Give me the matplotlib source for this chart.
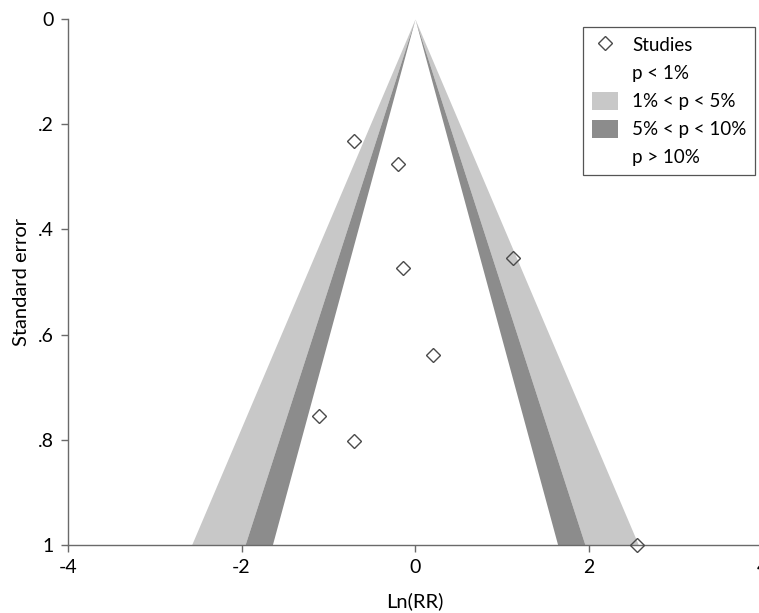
import matplotlib
matplotlib.use('Agg')
import matplotlib.pyplot as plt
import matplotlib.patches as mpatches
import matplotlib.lines as mlines
import numpy as np

plt.rcParams['font.family'] = ['Lato', 'DejaVu Sans']

# Study estimates: log risk ratio and its standard error.
ln_rr = [-0.70, -0.20, -0.14, 1.125, 0.205, -1.11, -0.70, 2.56]
std_err = [0.231, 0.276, 0.474, 0.454, 0.639, 0.755, 0.803, 1.0]

# Contour boundaries (z values for p = 10%, 5%, 1%).
z_10 = 1.645
z_05 = 1.96
z_01 = 2.576

light_gray = '#c8c8c8'
dark_gray = '#8c8c8c'
axis_gray = '#6a6a6a'

W, H = 759, 613
fig = plt.figure(figsize=(W / 100, H / 100), dpi=100)
ax = fig.add_axes([68 / W, 1 - 545 / H, (762 - 68) / W, (545 - 19) / H])

se = np.linspace(0, 1, 200)
for sign in (-1, 1):
    ax.fill_betweenx(se, sign * z_05 * se, sign * z_01 * se,
                     color=light_gray, linewidth=0)
    ax.fill_betweenx(se, sign * z_10 * se, sign * z_05 * se,
                     color=dark_gray, linewidth=0)

ax.plot(ln_rr, std_err, linestyle='none', marker='D', markersize=7.5,
        markerfacecolor='none', markeredgecolor='#4a4a4a',
        markeredgewidth=1.0, clip_on=False, zorder=5)

ax.set_xlim(-4, 4)
ax.set_ylim(1, 0)
ax.set_xticks([-4, -2, 0, 2, 4])
ax.set_xticklabels(['-4', '-2', '0', '2', '4'])
ax.set_yticks([0, 0.2, 0.4, 0.6, 0.8, 1.0])
ax.set_yticklabels(['0', '.2', '.4', '.6', '.8', '1'])

for side in ('top', 'right'):
    ax.spines[side].set_visible(False)
for side in ('left', 'bottom'):
    ax.spines[side].set_color(axis_gray)
    ax.spines[side].set_linewidth(1.0)
ax.tick_params(direction='out', length=5, width=1.0, color=axis_gray,
               labelsize=14, labelcolor='black', pad=5)

ax.set_xlabel('Ln(RR)', fontsize=14.5, labelpad=12)
ax.set_ylabel('Standard error', fontsize=14.5, labelpad=6)

handles = [
    mlines.Line2D([], [], linestyle='none', marker='D', markersize=7,
                  markerfacecolor='none', markeredgecolor='#4a4a4a'),
    mpatches.Patch(facecolor='white', edgecolor='none'),
    mpatches.Patch(facecolor=light_gray, edgecolor='none'),
    mpatches.Patch(facecolor=dark_gray, edgecolor='none'),
    mpatches.Patch(facecolor='white', edgecolor='none'),
]
labels = ['Studies', 'p < 1%', '1% < p < 5%', '5% < p < 10%', 'p > 10%']
leg = ax.legend(handles, labels, loc='upper right',
                bbox_to_anchor=(755 / W, 1 - 27 / H),
                bbox_transform=fig.transFigure, borderaxespad=0,
                fontsize=13.5, frameon=True, fancybox=False, framealpha=1,
                edgecolor='#555555', handlelength=1.4, handleheight=1.15,
                labelspacing=0.5, handletextpad=0.75, borderpad=0.45)
leg.get_frame().set_linewidth(0.9)

fig.savefig('out.png', dpi=100)
